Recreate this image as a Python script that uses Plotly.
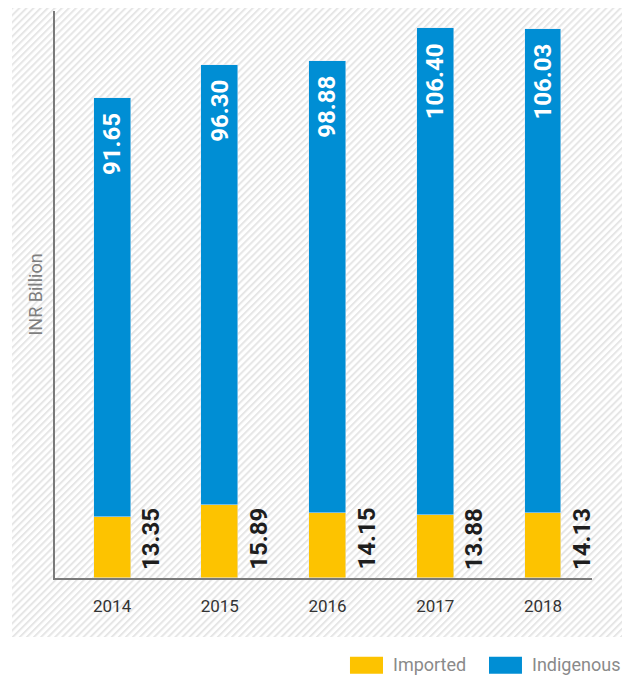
import base64
import plotly.graph_objects as go

years = ["2014", "2015", "2016", "2017", "2018"]
imported = [13.35, 15.89, 14.15, 13.88, 14.13]
indigenous = [91.65, 96.30, 98.88, 106.40, 106.03]

YELLOW = "#FDC300"
BLUE = "#008ED4"
LABEL_FONT = "Liberation Sans Narrow, Roboto, sans-serif"

svg = (
    '<svg xmlns="http://www.w3.org/2000/svg" width="610" height="637" viewBox="0 0 610 637">'
    '<defs><pattern id="h" patternUnits="userSpaceOnUse" width="5" height="5" '
    'patternTransform="rotate(45)"><rect x="0" y="0" width="2" height="5" fill="#e6e6e6"/></pattern></defs>'
    '<rect width="610" height="637" fill="#ffffff"/>'
    '<rect width="610" height="637" fill="url(#h)"/></svg>'
)
bg_src = "data:image/svg+xml;base64," + base64.b64encode(svg.encode()).decode()

fig = go.Figure()
fig.add_trace(go.Bar(x=years, y=imported, name="Imported", marker_color=YELLOW,
                     width=0.343, hoverinfo="skip"))
fig.add_trace(go.Bar(x=years, y=indigenous, name="Indigenous", marker_color=BLUE,
                     width=0.343, hoverinfo="skip"))

annotations = []
for i, (imp, ind) in enumerate(zip(imported, indigenous)):
    annotations.append(dict(
        x=i, y=imp + ind, xref="x", yref="y", text=f"{ind:.2f}", showarrow=False,
        textangle=-90, xanchor="center", yanchor="top", yshift=-13,
        font=dict(family=LABEL_FONT, size=24, color="#ffffff", weight="bold"),
    ))
    annotations.append(dict(
        x=i, y=0, xref="x", yref="y", text=f"{imp:.2f}", showarrow=False,
        textangle=-90, xanchor="left", yanchor="bottom", xshift=23, yshift=6,
        font=dict(family=LABEL_FONT, size=24, color="#1e1e1e", weight="bold"),
    ))

# manual legend (plot area spans 537 px wide, 567 px tall)
legend_items = [("Imported", YELLOW, 0.5493, 0.6108, 0.6260),
                ("Indigenous", BLUE, 0.8082, 0.8696, 0.8850)]
shapes = []
for name, col, x0, x1, tx in legend_items:
    shapes.append(dict(type="rect", xref="paper", yref="paper", x0=x0, x1=x1,
                       y0=-0.1689, y1=-0.1390, fillcolor=col, line_width=0))
    annotations.append(dict(x=tx, y=-0.1526, xref="paper", yref="paper", text=name,
                            showarrow=False, xanchor="left", yanchor="middle",
                            font=dict(family="Roboto, sans-serif", size=18, color="#8a8a8a")))

fig.update_layout(
    width=633, height=675,
    margin=dict(l=47, r=49, t=3, b=105),
    barmode="stack",
    showlegend=False,
    paper_bgcolor="#ffffff",
    plot_bgcolor="rgba(0,0,0,0)",
    bargap=0,
    annotations=annotations,
    shapes=shapes,
    images=[dict(source=bg_src, xref="paper", yref="paper", x=-0.0801, y=1.0194,
                 sizex=1.136, sizey=1.1235, sizing="stretch", xanchor="left",
                 yanchor="top", layer="below")],
    xaxis=dict(
        type="category", range=[-0.53, 4.455], showline=True, linecolor="#7a7a7a",
        linewidth=2, showgrid=False, zeroline=False, ticks="outside", ticklen=12,
        tickcolor="rgba(0,0,0,0)",
        tickfont=dict(family="Roboto, sans-serif", size=17, color="#333333"),
    ),
    yaxis=dict(
        range=[0, 124], showline=True, linecolor="#7a7a7a", linewidth=2,
        showgrid=False, zeroline=False, showticklabels=False, ticks="",
        title=dict(text="INR Billion", standoff=6,
                   font=dict(family="Roboto, sans-serif", size=18, color="#7f7f7f")),
    ),
)

fig.write_html("out.html")
